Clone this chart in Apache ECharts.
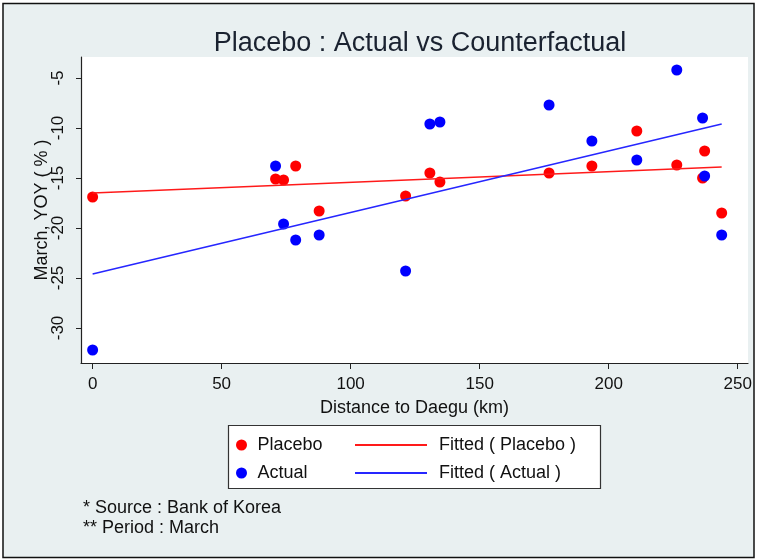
<!DOCTYPE html>
<html>
<head>
<meta charset="utf-8">
<title>Placebo : Actual vs Counterfactual</title>
<script src="https://cdn.jsdelivr.net/npm/echarts@6/dist/echarts.min.js"></script>
<style>
  html, body { margin: 0; padding: 0; background: #fff; }
  #chart { width: 760px; height: 560px; }
</style>
</head>
<body>
<div id="chart"></div>
<script>
// Distance of each region to Daegu (km)
const distance = [0, 70.9, 74.0, 78.7, 87.8, 121.3, 130.7, 134.6, 176.9, 193.5, 210.9, 226.4, 236.4, 237.2, 243.8];
// March year-over-year change (%), counterfactual (placebo) and actual
const placebo = [-16.9, -15.1, -15.2, -13.8, -18.3, -16.8, -14.5, -15.4, -14.5, -13.8, -10.3, -13.7, -15.0, -12.3, -18.5];
const actual  = [-32.2, -13.8, -19.6, -21.2, -20.7, -24.3, -9.6, -9.4, -7.7, -11.3, -13.2, -4.2, -9.0, -14.8, -20.7];

// Fitted lines, start and end of the distance range
const fitDistance = [0, 243.8];
const fitPlacebo = [-16.5, -13.9];
const fitActual = [-24.6, -9.6];

// Tick labels
const xTicks = [0, 50, 100, 150, 200, 250];
const yTicks = [-30, -25, -20, -15, -10, -5];

const notes = ['* Source : Bank of Korea', '** Period : March'];

const FONT = "'Liberation Sans', Arial, Helvetica, sans-serif";
const INK = '#111';
const RED = '#ff0000';
const BLUE = '#0000ff';
const RED_LINE = '#ff1a1a';
const BLUE_LINE = '#2626ff';

const pairs = (xs, ys) => xs.map((x, i) => [x, ys[i]]);

const chart = echarts.init(document.getElementById('chart'), null, { renderer: 'canvas' });

chart.setOption({
  backgroundColor: '#ffffff',
  animation: false,
  textStyle: { fontFamily: FONT, color: INK },
  title: {
    text: 'Placebo : Actual vs Counterfactual',
    left: 415,
    textAlign: 'center',
    top: 25,
    textStyle: { fontFamily: FONT, fontSize: 27, fontWeight: 'normal', color: '#1a2230' }
  },
  grid: {
    left: 81, right: 12, top: 57, bottom: 197,
    show: true, backgroundColor: '#ffffff', borderWidth: 0
  },
  xAxis: {
    type: 'value',
    min: -4.5, max: 254,
    name: 'Distance to Daegu (km)',
    nameLocation: 'middle',
    nameGap: 36,
    nameMoveOverlap: false,
    nameTextStyle: { fontFamily: FONT, fontSize: 18, color: INK },
    axisLine: { onZero: false, lineStyle: { color: '#222', width: 1.2 } },
    axisTick: { show: true, length: 6, customValues: xTicks, lineStyle: { color: '#222' } },
    axisLabel: { customValues: xTicks, margin: 13, fontSize: 17, color: INK, fontFamily: FONT },
    splitLine: { show: false }
  },
  yAxis: {
    type: 'value',
    min: -33.5, max: -2.9,
    name: 'March, YOY ( % )',
    nameLocation: 'middle',
    nameGap: 30,
    nameMoveOverlap: false,
    nameTextStyle: { fontFamily: FONT, fontSize: 18, color: INK },
    axisLine: { show: true, onZero: false, lineStyle: { color: '#222', width: 1.2 } },
    axisTick: { show: true, length: 5, customValues: yTicks, lineStyle: { color: '#222' } },
    axisLabel: { customValues: yTicks, rotate: 90, margin: 14, fontSize: 17, color: INK, fontFamily: FONT },
    splitLine: { show: false }
  },
  legend: [
    {
      orient: 'vertical',
      left: 231, top: 430,
      itemWidth: 20, itemHeight: 11, itemGap: 8,
      icon: 'circle',
      data: ['Placebo', 'Actual'],
      textStyle: { fontFamily: FONT, fontSize: 18, color: INK, lineHeight: 20, padding: [0, 0, 0, 1] }
    },
    {
      orient: 'vertical',
      left: 350, top: 430,
      itemWidth: 72, itemHeight: 2, itemGap: 8,
      icon: 'rect',
      data: ['Fitted ( Placebo )', 'Fitted ( Actual )'],
      textStyle: { fontFamily: FONT, fontSize: 18, color: INK, lineHeight: 20, padding: [0, 0, 0, 7] }
    }
  ],
  graphic: [
    {
      type: 'rect', z: -10, silent: true,
      shape: { x: 3, y: 3.5, width: 751, height: 554 },
      style: { fill: '#e9f0f1', stroke: '#111', lineWidth: 1.5 }
    },
    {
      type: 'rect', z: -5, silent: true,
      shape: { x: 228.5, y: 425.5, width: 372, height: 63 },
      style: { fill: '#ffffff', stroke: '#333', lineWidth: 1.2 }
    },
    {
      type: 'text', left: 83, top: 498, silent: true,
      style: { text: notes.join('\n'), fontFamily: FONT, fontSize: 18, lineHeight: 20, fill: INK }
    }
  ],
  series: [
    {
      name: 'Placebo', type: 'scatter',
      symbol: 'circle', symbolSize: 11,
      itemStyle: { color: RED, opacity: 1 },
      data: pairs(distance, placebo), z: 3
    },
    {
      name: 'Actual', type: 'scatter',
      symbol: 'circle', symbolSize: 11,
      itemStyle: { color: BLUE, opacity: 1 },
      data: pairs(distance, actual), z: 3
    },
    {
      name: 'Fitted ( Placebo )', type: 'line',
      symbol: 'none', showSymbol: false,
      lineStyle: { color: RED_LINE, width: 1.6 },
      itemStyle: { color: RED_LINE },
      data: pairs(fitDistance, fitPlacebo), z: 4
    },
    {
      name: 'Fitted ( Actual )', type: 'line',
      symbol: 'none', showSymbol: false,
      lineStyle: { color: BLUE_LINE, width: 1.6 },
      itemStyle: { color: BLUE_LINE },
      data: pairs(fitDistance, fitActual), z: 4
    }
  ]
});
</script>
</body>
</html>
